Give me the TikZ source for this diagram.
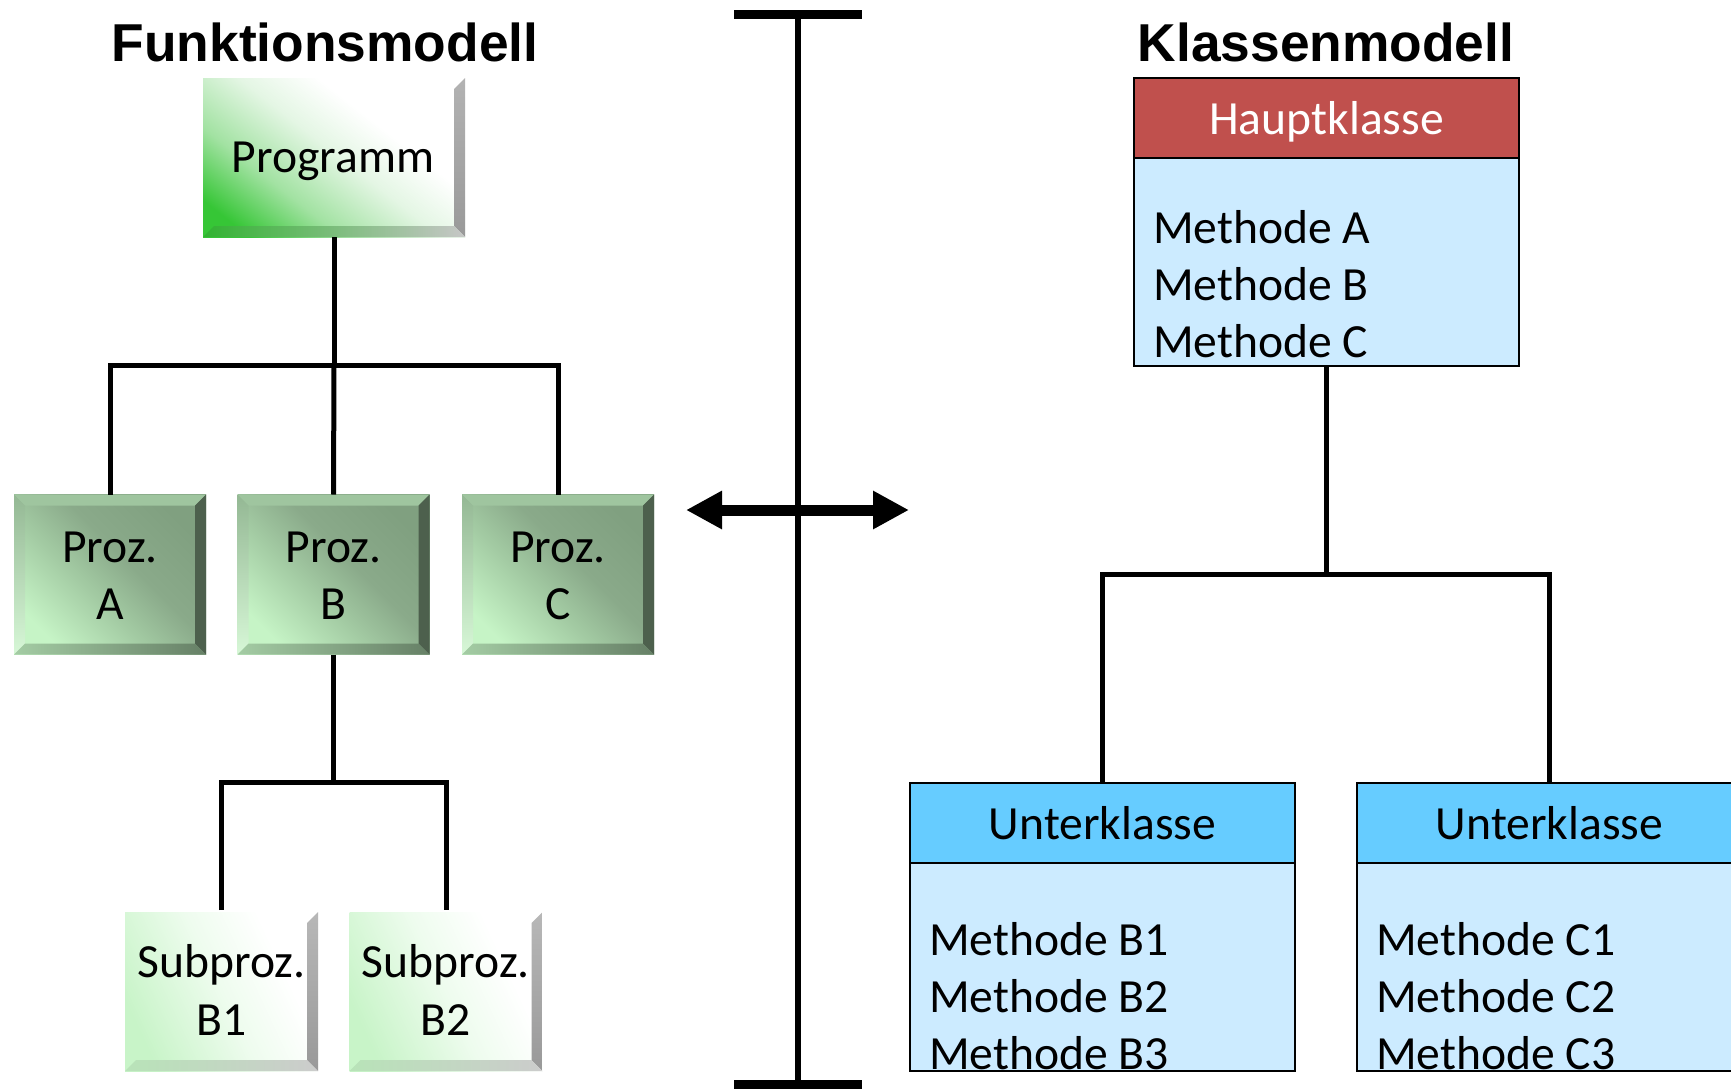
\documentclass[tikz,border=0pt]{standalone}
\usepackage{fontspec}
\setmainfont{Carlito}
\newfontfamily\headfont{Liberation Sans}
\usetikzlibrary{arrows.meta,calc}

% colours
\definecolor{hauptred}{HTML}{C0504D}
\definecolor{bodyblue}{HTML}{CCEBFF}
\definecolor{unterblue}{HTML}{66CCFF}
\definecolor{progA}{HTML}{36C636}
\definecolor{progB}{HTML}{A2E2A2}
\definecolor{progC}{HTML}{E4F6E4}
\definecolor{prozA}{HTML}{C6F4C6}
\definecolor{prozB}{HTML}{A4CCA4}
\definecolor{prozC}{HTML}{8AAA8A}
\definecolor{prozD}{HTML}{80A080}
\definecolor{subA}{HTML}{C8F4C8}
\definecolor{subB}{HTML}{EEFCEE}

% face gradients of the three kinds of boxes
\pgfdeclarehorizontalshading{progface}{100bp}{color(0bp)=(progA); color(22bp)=(progA); color(36bp)=(progB); color(51bp)=(progC); color(63bp)=(white); color(100bp)=(white)}
\pgfdeclarehorizontalshading{prozface}{100bp}{color(0bp)=(prozA); color(25bp)=(prozA); color(42bp)=(prozB); color(56bp)=(prozC); color(75bp)=(prozD); color(100bp)=(prozD)}
\pgfdeclarehorizontalshading{subface}{100bp}{color(0bp)=(subA); color(25bp)=(subA); color(50bp)=(subB); color(68bp)=(white); color(100bp)=(white)}

% bevelled frame around a box node: #1 node, #2 top, #3 left, #4 right, #5 bottom
\newcommand\bevelframe[5]{%
  \path[#2] (#1.north west) -- (#1.north east) -- ($(#1.north east)+(-11,11)$) -- ($(#1.north west)+(11,11)$) -- cycle;
  \path[#3] (#1.north west) -- ($(#1.north west)+(11,11)$) -- ($(#1.south west)+(11,-11)$) -- (#1.south west) -- cycle;
  \path[#4] (#1.north east) -- (#1.south east) -- ($(#1.south east)+(-11,-11)$) -- ($(#1.north east)+(-11,11)$) -- cycle;
  \path[#5] (#1.south west) -- (#1.south east) -- ($(#1.south east)+(-11,-11)$) -- ($(#1.south west)+(11,-11)$) -- cycle;
}

\begin{document}
\begin{tikzpicture}[x=0.75pt,y=-0.75pt,
  box/.style={inner sep=0pt, outer sep=0pt},
  progbox/.style={box, shade, shading=progface, shading angle=52,
    minimum width=262*0.75pt, minimum height=159*0.75pt},
  prozbox/.style={box, shade, shading=prozface, shading angle=45,
    minimum width=192*0.75pt, minimum height=160*0.75pt},
  subbox/.style={box, shade, shading=subface, shading angle=25,
    minimum width=193*0.75pt, minimum height=159*0.75pt},
  headbox/.style={box, draw, line width=1.5pt, minimum width=385*0.75pt, minimum height=80*0.75pt},
  bodybox/.style={box, draw, line width=1.5pt, fill=bodyblue, minimum width=385*0.75pt, minimum height=208*0.75pt},
  txt/.style={inner sep=0pt, font=\fontsize{35.7}{42}\selectfont},
  title/.style={inner sep=0pt, font=\headfont\bfseries\fontsize{40}{48}\selectfont},
  conn/.style={line width=3.75pt, line join=miter},
  divider/.style={line width=4.5pt},
  capbar/.style={line width=6.75pt},
]
\useasboundingbox (0,0) rectangle (1731,1089);
\clip (0,0) rectangle (1731,1089);
\fill[white] (0,0) rectangle (1731,1089);

% ---------- titles ----------
\node[title, anchor=base] (tfun) at (325,61) {Funktionsmodell};
\node[title, anchor=base] (tkla) at (1326,61) {Klassenmodell};

% ---------- function model ----------
\node[progbox] (prog) at (334,157.5) {};
\bevelframe{prog}{}{}{top color=black!30, bottom color=black!40}{left color=progA!90!black, right color=black!22}
\node[txt, anchor=base] (progt) at (333,172) {Programm};

\foreach \n/\x/\l in {pa/110/A, pb/333.5/B, pc/558/C}{
  \node[prozbox] (\n) at (\x,574.5) {};
  \bevelframe{\n}{fill=prozB!85!prozD}{top color=prozB!90!black, bottom color=prozA!70!white}{fill=prozD!60!black}{left color=prozB, right color=prozD!80!black}
  \node[txt, anchor=base] (\n t1) at (\x,562) {Proz.};
  \node[txt, anchor=base] (\n t2) at (\x,619) {\l};
}

\foreach \n/\x/\l in {sa/221.5/B1, sb/446/B2}{
  \node[subbox] (\n) at (\x,991.5) {};
  \bevelframe{\n}{}{}{top color=black!28, bottom color=black!40}{left color=prozA!80!prozD, right color=black!20}
  \node[txt, anchor=base] (\n t1) at (\x,977) {Subproz.};
  \node[txt, anchor=base] (\n t2) at (\x,1035) {\l};
}

% tree connectors
\coordinate (fork1) at (prog.south |- 0,365);
\draw[conn] (prog.south) -- (fork1);
\draw[conn] (pa.north) |- (fork1) -| (pc.north);
\draw[conn] (fork1) -- (pb.north);
\coordinate (fork2) at (pb.south |- 0,782);
\draw[conn] (pb.south) -- (fork2);
\draw[conn] ($(sa.north)+(0,-2)$) |- (fork2) -| ($(sb.north)+(0,-2)$);

% ---------- divider with double arrow ----------
\coordinate (dtop) at (798,14.5);
\coordinate (dbot) at (798,1084.5);
\coordinate (dtl) at (734,14.5);
\coordinate (dtr) at (862,14.5);
\coordinate (dbl) at (734,1084.5);
\coordinate (dbr) at (862,1084.5);
\draw[divider] (dtop) -- (dbot);
\draw[capbar] (dtl) -- (dtr);
\draw[capbar] (dbl) -- (dbr);
\coordinate (al) at (686,510);
\coordinate (ar) at (909,510);
\draw[line width=8.25pt, {Triangle[length=27pt,width=27pt]}-{Triangle[length=27pt,width=27pt]}] (al) -- (ar);

% ---------- class model ----------
\node[headbox, fill=hauptred] (hk) at (1326.5,118) {};
\node[txt, anchor=base, text=white] (hkt) at (1326.5,134) {Hauptklasse};
\node[bodybox] (hb) at (1326.5,262) {};
\node[txt, anchor=base west] (hm1) at (1153,243) {Methode A};
\node[txt, anchor=base west] (hm2) at (1153,300) {Methode B};
\node[txt, anchor=base west] (hm3) at (1153,357) {Methode C};

\foreach \n/\x/\l in {u1/1102.5/B, u2/1549.5/C}{
  \node[headbox, fill=unterblue] (\n h) at (\x,823) {};
  \node[txt, anchor=base] (\n ht) at (\x,839) {Unterklasse};
  \node[bodybox] (\n b) at (\x,967) {};
  \begin{scope}
    \clip (\n b.north west) rectangle (\n b.south east);
    \node[txt, anchor=base west] (\n m1) at (\x-173.5,955) {Methode \l1};
    \node[txt, anchor=base west] (\n m2) at (\x-173.5,1012) {Methode \l2};
    \node[txt, anchor=base west] (\n m3) at (\x-173.5,1069) {Methode \l3};
  \end{scope}
  \draw[line width=1.5pt] (\n b.north west) rectangle (\n b.south east);
}

\coordinate (fork3) at (hb.south |- 0,574);
\draw[conn] (hb.south) -- (fork3);
\draw[conn] (u1h.north) |- (fork3) -| (u2h.north);
\end{tikzpicture}
\end{document}
